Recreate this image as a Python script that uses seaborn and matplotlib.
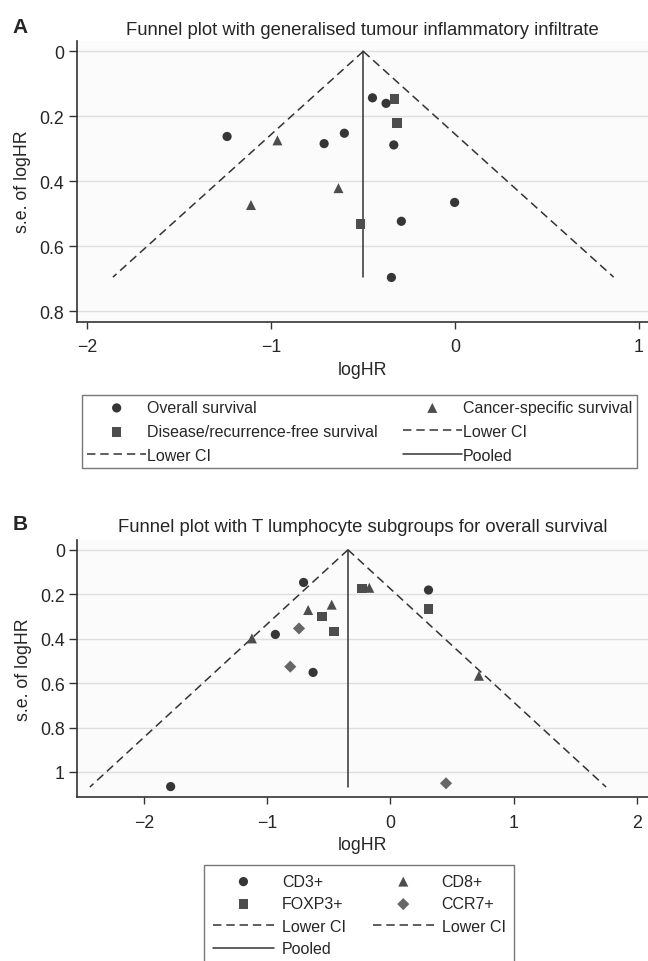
import numpy as np
import pandas as pd
import matplotlib.pyplot as plt
import seaborn as sns

# Panel A - generalised tumour inflammatory infiltrate (logHR, s.e.)
os_hr = [-0.449, -0.375, -1.240, -0.602, -0.712, -0.333, -0.002, -0.292, -0.346]
os_se = [0.143, 0.160, 0.262, 0.252, 0.284, 0.288, 0.465, 0.523, 0.696]
dfs_hr = [-0.330, -0.317, -0.515]
dfs_se = [0.147, 0.220, 0.532]
css_hr = [-0.966, -0.634, -1.110]
css_se = [0.274, 0.421, 0.473]
pooled_a = -0.499
se_max_a = 0.695

# Panel B - T lymphocyte subgroups, overall survival
cd3_hr = [-0.704, 0.309, -0.933, -0.627, -1.782]
cd3_se = [0.147, 0.181, 0.381, 0.552, 1.066]
cd8_hr = [-0.171, -0.476, -0.667, -1.123, 0.718]
cd8_se = [0.171, 0.247, 0.271, 0.399, 0.567]
foxp3_hr = [-0.231, 0.309, -0.557, -0.456]
foxp3_se = [0.175, 0.267, 0.301, 0.367]
ccr7_hr = [-0.741, -0.812, 0.451]
ccr7_se = [0.354, 0.526, 1.051]
pooled_b = -0.344
se_max_b = 1.068

sns.set_style('white')
plt.rcParams['font.family'] = ['Liberation Sans', 'DejaVu Sans']

DARK = '#333333'
DASH = (0, (5.5, 3.2))
fig = plt.figure(figsize=(6.48, 9.62), dpi=100)
axA = fig.add_axes([0.1184, 0.6646, 0.8816, 0.2921])
axB = fig.add_axes([0.1193, 0.1702, 0.8807, 0.2674])


def funnel(ax, groups, pooled, se_max):
    handles = []
    for name, hr, se, mk, col, sz in groups:
        df = pd.DataFrame({'logHR': hr, 'se': se})
        sns.scatterplot(data=df, x='logHR', y='se', marker=mk, color=col, s=sz,
                        edgecolor='none', linewidth=0, ax=ax, zorder=3, label=name)
        handles.append(ax.collections[-1])
    se_line = np.array([0.0, se_max])
    l1, = ax.plot(pooled - 1.96 * se_line, se_line, color=DARK, lw=1.1,
                  ls=DASH, label='Lower CI')
    l2, = ax.plot(pooled + 1.96 * se_line, se_line, color=DARK, lw=1.1,
                  ls=DASH, label='Lower CI')
    l3, = ax.plot([pooled, pooled], se_line, color=DARK, lw=1.1, label='Pooled')
    ax.set_facecolor('#fbfbfb')
    for s in ['top', 'right']:
        ax.spines[s].set_visible(False)
    for s in ['left', 'bottom']:
        ax.spines[s].set_color(DARK)
        ax.spines[s].set_linewidth(1.2)
    ax.yaxis.grid(True, color='#dedede', lw=1)
    ax.xaxis.grid(False)
    ax.tick_params(axis='y', which='major', left=True, length=6, width=1, color=DARK,
                   pad=3, labelsize=12.8)
    ax.tick_params(axis='x', which='major', bottom=True, length=5, width=1, color=DARK,
                   pad=7, labelsize=12.8)
    ax.set_xlabel('logHR', fontsize=12.8, labelpad=4)
    ax.set_ylabel('s.e. of logHR', fontsize=12.8, labelpad=6)
    return handles, [l1, l2, l3]


groupsA = [('Overall survival', os_hr, os_se, 'o', '#363636', 44),
           ('Disease/recurrence-free survival', dfs_hr, dfs_se, 's', '#4d4d4d', 48),
           ('Cancer-specific survival', css_hr, css_se, '^', '#4d4d4d', 52)]
hA, lA = funnel(axA, groupsA, pooled_a, se_max_a)
axA.set_xlim(-2.058, 1.05)
axA.set_ylim(0.832, -0.033)
axA.set_xticks([-2, -1, 0, 1])
axA.set_yticks([0, 0.2, 0.4, 0.6, 0.8])
axA.set_yticklabels(['0', '0.2', '0.4', '0.6', '0.8'])
axA.set_title('Funnel plot with generalised tumour inflammatory infiltrate',
              fontsize=13.3, pad=5)

groupsB = [('CD3+', cd3_hr, cd3_se, 'o', '#363636', 44),
           ('CD8+', cd8_hr, cd8_se, '^', '#4d4d4d', 52),
           ('FOXP3+', foxp3_hr, foxp3_se, 's', '#4d4d4d', 48),
           ('CCR7+', ccr7_hr, ccr7_se, 'D', '#666666', 38)]
hB, lB = funnel(axB, groupsB, pooled_b, se_max_b)
axB.set_xlim(-2.539, 2.089)
axB.set_ylim(1.114, -0.044)
axB.set_xticks([-2, -1, 0, 1, 2])
axB.set_yticks([0, 0.2, 0.4, 0.6, 0.8, 1.0])
axB.set_yticklabels(['0', '0.2', '0.4', '0.6', '0.8', '1'])
axB.set_title('Funnel plot with T lumphocyte subgroups for overall survival',
              fontsize=13.3, pad=6.5)

# legends (column-major order to mimic row-wise layout)
legA_h = [hA[0], hA[1], lA[0], hA[2], lA[1], lA[2]]
legA_l = ['Overall survival', 'Disease/recurrence-free survival', 'Lower CI',
          'Cancer-specific survival', 'Lower CI', 'Pooled']
legA = axA.legend(legA_h, legA_l, ncol=2, loc='upper left', mode='expand',
                  bbox_to_anchor=(82 / 648, 1 - 396 / 962 - 0.01, 555 / 648, 0.01),
                  bbox_transform=fig.transFigure, fontsize=11.5, frameon=True,
                  fancybox=False, handlelength=3.7, handletextpad=0.05,
                  labelspacing=0.56, borderpad=0.32, borderaxespad=0, columnspacing=1)
legA.get_frame().set_edgecolor('#555555')
legA.get_frame().set_linewidth(1)

legB_h = [hB[0], hB[2], lB[0], lB[2], hB[1], hB[3], lB[1]]
legB_l = ['CD3+', 'FOXP3+', 'Lower CI', 'Pooled', 'CD8+', 'CCR7+', 'Lower CI']
legB = axB.legend(legB_h, legB_l, ncol=2, loc='upper left',
                  bbox_to_anchor=(204.3 / 648, 1 - 866 / 962),
                  bbox_transform=fig.transFigure, fontsize=11.5, frameon=True,
                  fancybox=False, handlelength=3.8, handletextpad=0.5,
                  labelspacing=0.47, borderpad=0.55, borderaxespad=0, columnspacing=1.7)
legB.get_frame().set_edgecolor('#555555')
legB.get_frame().set_linewidth(1)

fig.text(12.7 / 648, 1 - 33.3 / 962, 'A', fontsize=15, fontweight='bold')
fig.text(12.4 / 648, 1 - 530 / 962, 'B', fontsize=15, fontweight='bold')

fig.savefig('out.png', dpi=100)
